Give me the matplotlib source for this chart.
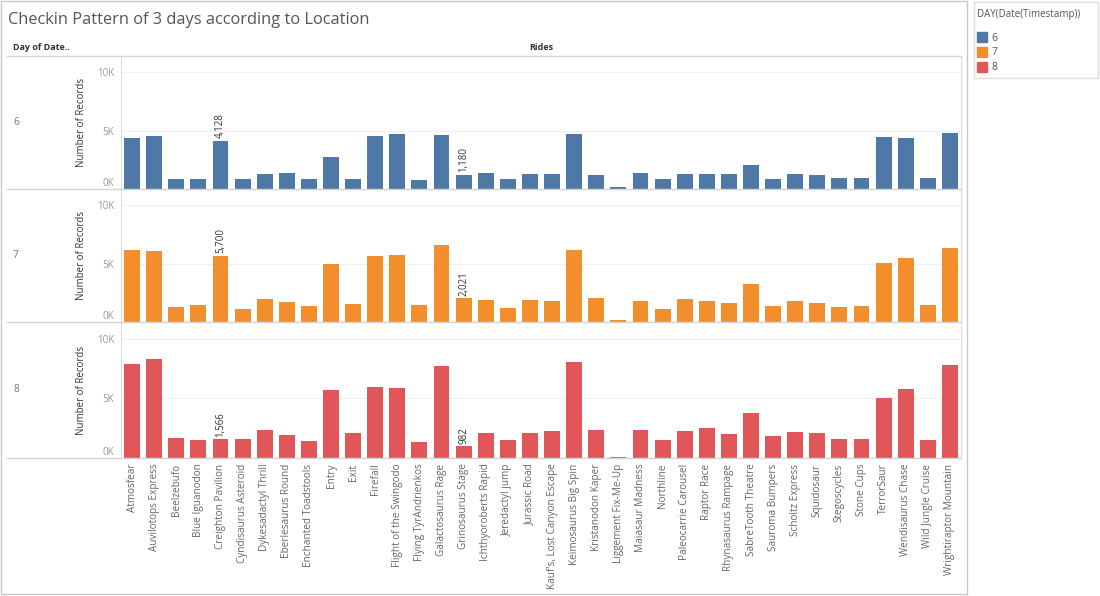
"""Checkin pattern of 3 days per ride, Tableau-style small multiples."""

import matplotlib

matplotlib.use("Agg")
import matplotlib.pyplot as plt
from matplotlib.lines import Line2D
from matplotlib.patches import Patch, Rectangle
import numpy as np

plt.rcParams["font.family"] = ["Open Sans", "DejaVu Sans"]

RIDES = [
    "Atmosfear", "Auvilotops Express", "Beelzebufo", "Blue Iguanodon",
    "Creighton Pavilion", "Cyndisaurus Asteroid", "Dykesadactyl Thrill",
    "Eberlesaurus Round", "Enchanted Toadstools", "Entry", "Exit", "Firefall",
    "Flight of the Swingodo", "Flying TyrAndrienkos", "Galactosaurus Rage",
    "Grinosaurus Stage", "Ichthyoroberts Rapid", "Jeredactyl jump",
    "Jurassic Road", "Kauf's, Lost Canyon Escape", "Keimosaurus Big Spin",
    "Kristanodon Kaper", "Liggement Fix-Me-Up", "Maiasaur Madness",
    "Northline", "Paleocarrie Carousel", "Raptor Race", "Rhynasaurus Rampage",
    "SabreTooth Theatre", "Sauroma Bumpers", "Scholtz Express", "Squidosaur",
    "Stegoscycles", "Stone Cups", "TerrorSaur", "Wendisaurus Chase",
    "Wild Jungle Cruise", "Wrightiraptor Mountain",
]
DAYS = [6, 7, 8]
DAY6 = [4400, 4550, 880, 880, 4128, 880, 1280, 1360, 820, 2760, 880, 4550,
        4690, 770, 4600, 1180, 1360, 880, 1250, 1250, 4690, 1160, 170, 1360,
        820, 1310, 1310, 1250, 2070, 820, 1250, 1160, 910, 910, 4490, 4400,
        910, 4770]
DAY7 = [6210, 6120, 1290, 1470, 5700, 1150, 1950, 1720, 1380, 5000, 1580, 5630,
        5720, 1440, 6610, 2021, 1870, 1240, 1870, 1810, 6210, 2070, 140, 1810,
        1150, 1980, 1810, 1670, 3280, 1380, 1810, 1670, 1290, 1380, 5090, 5520,
        1470, 6350]
DAY8 = [7890, 8260, 1710, 1540, 1566, 1630, 2310, 1910, 1430, 5740, 2110, 5940,
        5890, 1340, 7740, 982, 2110, 1540, 2110, 2260, 8030, 2310, 90, 2310,
        1540, 2260, 2540, 2030, 3770, 1830, 2170, 2110, 1600, 1600, 5060, 5800,
        1540, 7830]
LABELLED = ["Creighton Pavilion", "Grinosaurus Stage"]

COLORS = ["#4e79a7", "#f28e2b", "#e15759"]
W, H = 1100, 596
GREY_LINE = "#d4d4d4"


def fx(x):
    return x / W


def fy(y):
    return 1 - y / H


fig = plt.figure(figsize=(W / 100, H / 100), dpi=100)

# worksheet frame and header
fig.add_artist(Rectangle((fx(1), fy(594)), fx(966), 593 / H, transform=fig.transFigure,
                         fill=False, edgecolor="#c8c8c8", lw=1))
fig.text(fx(8), fy(20), "Checkin Pattern of 3 days according to Location",
         fontsize=11.8, color="#555555", va="center", ha="left")
fig.text(fx(13), fy(47), "Day of Date..", fontsize=6.5, color="#333333",
         fontweight="bold", va="center")
fig.text(fx(541), fy(47), "Rides", fontsize=6.5, color="#333333",
         fontweight="bold", va="center", ha="center")

panel_edges = [56, 189, 322, 458]
for y in panel_edges:
    fig.add_artist(Line2D([fx(7), fx(961)], [fy(y), fy(y)], transform=fig.transFigure,
                          color=GREY_LINE, lw=1))

x = np.arange(len(RIDES))
series = [DAY6, DAY7, DAY8]
for i, (day, values, color) in enumerate(zip(DAYS, series, COLORS)):
    top, bottom = panel_edges[i], panel_edges[i + 1]
    ax = fig.add_axes([fx(121), fy(bottom), fx(961 - 121), (bottom - top) / H])
    ax.bar(x, values, width=0.72, color=color)
    ax.set_xlim(-0.5, len(RIDES) - 0.5)
    ax.set_ylim(0, 11400)
    ax.set_yticks([0, 5000, 10000], ["0K", "5K", "10K"])
    ax.get_yticklabels()[0].set_va("bottom")
    ax.tick_params(axis="y", length=0, labelsize=7, labelcolor="#999999", pad=5)
    ax.grid(axis="y", color="#f0f0f0", lw=0.8)
    ax.set_axisbelow(True)
    for side in ("top", "bottom"):
        ax.spines[side].set_visible(False)
    for side in ("left", "right"):
        ax.spines[side].set_color("#dddddd")
    ax.set_ylabel("Number of Records", fontsize=7, color="#333333", labelpad=7)
    for name in LABELLED:
        j = RIDES.index(name)
        ax.annotate(f"{values[j]:,}", (j, values[j]), xytext=(0, 2),
                    textcoords="offset points", rotation=90, ha="center", va="bottom",
                    fontsize=7, color="#333333")
    if i == len(DAYS) - 1:
        ax.set_xticks(x, RIDES, rotation=90)
        ax.tick_params(axis="x", length=0, labelsize=7.2, labelcolor="#666666", pad=4)
    else:
        ax.set_xticks([])
    fig.text(fx(13), fy((top + bottom) / 2), str(day), fontsize=7.5, color="#777777",
             va="center")

# legend
fig.add_artist(Rectangle((fx(974), fy(78)), fx(124), 76 / H, transform=fig.transFigure,
                         fill=False, edgecolor="#dddddd", lw=1))
fig.text(fx(977), fy(14), "DAY(Date(Timestamp))", fontsize=7, color="#555555",
         va="center")
handles = [Patch(color=c, label=str(d)) for d, c in zip(DAYS, COLORS)]
fig.legend(handles=handles, loc="upper left", bbox_to_anchor=(fx(972), fy(27)),
           frameon=False, fontsize=7.5, labelcolor="#555555", handlelength=0.9,
           handleheight=1.1, handletextpad=0.5, labelspacing=0.3, borderpad=0)

fig.savefig("out.png", dpi=100)
